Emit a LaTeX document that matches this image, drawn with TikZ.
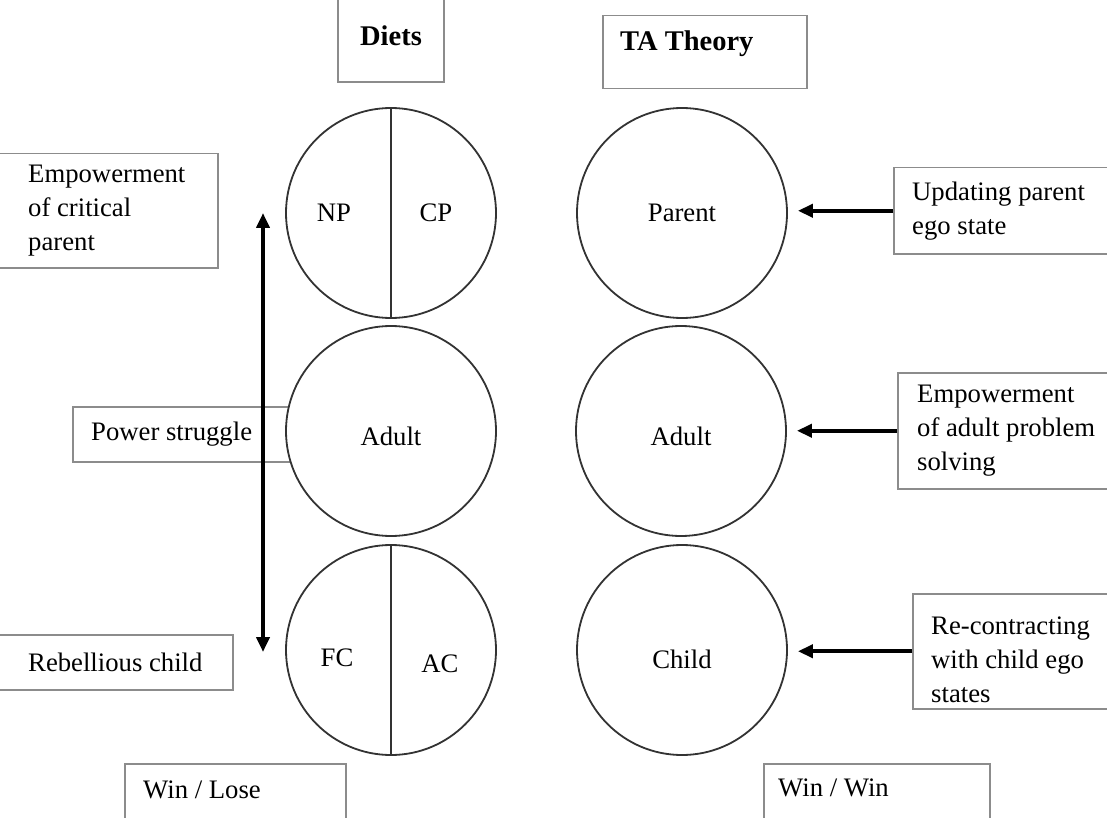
\documentclass[tikz,border=0pt]{standalone}
\usepackage{fontspec}
\setmainfont{Liberation Serif}
\usetikzlibrary{arrows.meta, positioning}

\begin{document}
\begin{tikzpicture}[x=1pt, y=-1pt,
    >={Triangle[length=15pt, width=13pt]},
    boxframe/.style={draw=black!45, line width=1.5pt, inner sep=0pt, anchor=north west},
    txt/.style={font=\fontsize{26.7}{34}\selectfont, align=left, inner sep=0pt, anchor=west},
    head/.style={font=\fontsize{28.5}{34}\selectfont\bfseries, inner sep=0pt},
    ego/.style={circle, draw=black!80, line width=1.8pt, fill=white, minimum size=210pt, inner sep=0pt, font=\fontsize{26.7}{34}\selectfont},
    divider/.style={draw=black!80, line width=1.8pt},
    push/.style={line width=4pt, ->}]
    \useasboundingbox (0,0) rectangle (1107,818);
    \fill[white] (0,0) rectangle (1107,818);
    \clip (0,0) rectangle (1107,818);

    % Headings
    \node (diets) [boxframe, head, anchor=center, minimum width=106pt, minimum height=92pt] at (391,36) {Diets};
    \node (taf) [boxframe, minimum width=204pt, minimum height=73pt] at (602,15) {};
    \node (ta) [head, anchor=base west] at ([xshift=18pt, yshift=-35.5pt]taf.north west) {TA Theory};

    % Diets side
    \node (critf) [boxframe, minimum width=227pt, minimum height=114pt] at (-10,153) {};
    \node (crit) [txt] at ([xshift=38pt]critf.west) {Empowerment\\of critical\\parent};
    \node (powf) [boxframe, minimum width=228pt, minimum height=55pt] at (72,406) {};
    \node (pow) [txt] at ([xshift=19pt]powf.west) {Power struggle};
    \node (rebf) [boxframe, minimum width=242pt, minimum height=55pt] at (-10,634) {};
    \node (reb) [txt] at ([xshift=38pt]rebf.west) {Rebellious child};
    \node (losef) [boxframe, minimum width=221pt, minimum height=80pt] at (124,763) {};
    \node (lose) [txt] at ([xshift=19pt, yshift=-27pt]losef.north west) {Win / Lose};

    % TA side
    \node (updf) [boxframe, minimum width=230pt, minimum height=86pt] at (893,167) {};
    \node (upd) [txt] at ([xshift=19pt]updf.west) {Updating parent\\ego state};
    \node (empf) [boxframe, minimum width=230pt, minimum height=116pt] at (897,372) {};
    \node (emp) [txt] at ([xshift=20pt]empf.west) {Empowerment\\of adult problem\\solving};
    \node (recf) [boxframe, minimum width=215pt, minimum height=115pt] at (912,593) {};
    \node (rec) [txt] at ([xshift=19pt, yshift=-9pt]recf.west) {Re-contracting\\with child ego\\states};
    \node (winf) [boxframe, minimum width=226pt, minimum height=80pt] at (763,763) {};
    \node (win) [txt] at ([xshift=15pt, yshift=-25pt]winf.north west) {Win / Win};

    % Ego states
    \node (pl) [ego] at (391,213) {};
    \node (al) [ego, text height=30pt] at (391,431) {Adult};
    \node (cl) [ego] at (391,650) {};
    \node (pr) [ego] at (682,213) {Parent};
    \node (ar) [ego, text height=30pt] at (681,431) {Adult};
    \node (cr) [ego, text height=38pt] at (682,650) {Child};

    % Split circles
    \draw[divider] (pl.north) -- (pl.south);
    \draw[divider] (cl.north) -- (cl.south);
    \node (np) [txt, anchor=center] at ([xshift=-57pt]pl.center) {NP};
    \node (cp) [txt, anchor=center] at ([xshift=45pt]pl.center) {CP};
    \node (fc) [txt, anchor=center] at ([xshift=-54pt, yshift=-8pt]cl.center) {FC};
    \node (ac) [txt, anchor=center] at ([xshift=49pt, yshift=-14pt]cl.center) {AC};

    % Arrows
    \coordinate (hi) at ([xshift=-128pt]pl.center);
    \coordinate (lo) at ([xshift=-128pt, yshift=-2pt]cl.center);
    \draw[push, <->] (hi) -- (lo);
    \draw[push, shorten >=10pt] (updf.west) -- (updf.west -| pr.east);
    \draw[push, shorten >=10pt] (empf.west) -- (empf.west -| ar.east);
    \draw[push, shorten >=10pt] (recf.west) -- (recf.west -| cr.east);
\end{tikzpicture}
\end{document}
